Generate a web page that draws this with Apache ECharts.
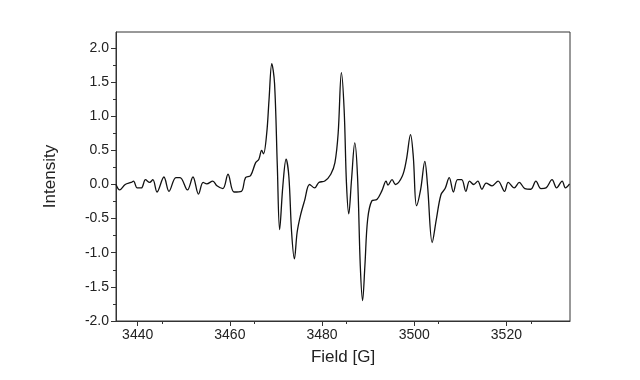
<!DOCTYPE html>
<html>
<head>
<meta charset="utf-8">
<script src="https://cdn.jsdelivr.net/npm/echarts@6/dist/echarts.min.js"></script>
<style>html,body{margin:0;padding:0;background:#fff;}#c{width:640px;height:380px;}</style>
</head>
<body>
<div id="c"></div>
<script>
const field = [3435.3,3436.1,3437.3,3438.6,3439.1,3439.9,3440.8,3441.7,3442.6,3443.3,3444.2,3445.7,3446.8,3448.3,3449.2,3450.8,3452.0,3453.2,3454.2,3455.0,3456.3,3457.2,3458.5,3459.6,3460.9,3462.5,3463.4,3464.5,3465.6,3466.3,3466.9,3467.3,3468.0,3468.5,3469.1,3469.7,3470.3,3470.8,3471.5,3472.2,3472.8,3473.4,3474.0,3474.6,3475.3,3476.2,3477.3,3478.4,3479.3,3480.6,3481.9,3482.8,3483.5,3484.2,3484.8,3485.3,3485.8,3486.4,3487.1,3487.7,3488.3,3488.8,3489.3,3489.9,3490.8,3491.9,3493.0,3493.9,3494.3,3495.2,3495.9,3497.4,3498.3,3499.2,3499.8,3500.5,3501.4,3502.3,3502.9,3503.9,3504.8,3505.8,3506.7,3507.6,3508.5,3509.4,3510.3,3511.2,3512.0,3512.9,3513.8,3514.7,3515.6,3516.9,3518.2,3519.6,3520.4,3521.7,3522.8,3524.0,3525.3,3526.4,3527.5,3528.6,3529.9,3530.9,3532.1,3532.8,3533.7];
const intensity = [0.0,-0.08,0.0,0.03,0.05,-0.05,-0.05,0.07,0.03,0.07,-0.11,0.11,-0.1,0.1,0.1,-0.08,0.11,-0.14,0.03,0.01,0.05,-0.02,-0.06,0.15,-0.11,-0.1,0.1,0.13,0.32,0.37,0.5,0.45,0.75,1.24,1.77,1.48,0.27,-0.66,-0.02,0.37,0.12,-0.7,-1.09,-0.7,-0.46,-0.24,0.0,-0.05,0.03,0.05,0.15,0.32,0.75,1.64,1.09,0.02,-0.43,0.07,0.61,0.12,-1.19,-1.7,-1.19,-0.51,-0.24,-0.22,-0.09,0.05,-0.01,0.07,0.0,0.12,0.36,0.73,0.41,-0.31,-0.07,0.34,-0.02,-0.85,-0.51,-0.15,-0.06,0.1,-0.11,0.07,0.07,-0.1,0.05,0.0,0.05,-0.07,0.02,-0.02,0.05,-0.1,0.03,-0.05,0.03,-0.06,-0.07,0.05,-0.06,-0.05,0.07,-0.05,0.05,-0.05,0.01];
const xTicks = [3440,3460,3480,3500,3520];
const yTicks = [-2.0,-1.5,-1.0,-0.5,0.0,0.5,1.0,1.5,2.0];

const chart = echarts.init(document.getElementById('c'), null, {renderer:'canvas'});
const font = 'Liberation Sans, Arial, sans-serif';
chart.setOption({
  animation:false,
  backgroundColor:'#fff',
  grid:{left:116,right:70,top:32,bottom:59,show:true,borderColor:'#333',borderWidth:1,backgroundColor:'transparent'},
  xAxis:{
    type:'value', min:3435.3, max:3533.8, interval:20,
    name:'Field [G]', nameLocation:'middle', nameGap:28,
    nameTextStyle:{fontFamily:font,fontSize:17,color:'#222'},
    axisLine:{onZero:false,lineStyle:{color:'#333',width:1}},
    axisTick:{show:true,length:5,lineStyle:{color:'#333'},customValues:xTicks},
    minorTick:{show:true,splitNumber:2,length:3,lineStyle:{color:'#333'}},
    axisLabel:{fontFamily:font,fontSize:14,color:'#222',margin:7,customValues:xTicks,formatter:v=>String(v)},
    splitLine:{show:false}
  },
  yAxis:{
    type:'value', min:-2.0, max:2.234, interval:0.5,
    name:'Intensity', nameLocation:'middle', nameGap:57,
    nameTextStyle:{fontFamily:font,fontSize:17,color:'#222'},
    axisLine:{show:true,onZero:false,lineStyle:{color:'#333',width:1}},
    axisTick:{show:true,length:5,lineStyle:{color:'#333'},customValues:yTicks},
    minorTick:{show:true,splitNumber:2,length:3,lineStyle:{color:'#333'}},
    axisLabel:{fontFamily:font,fontSize:14,color:'#222',margin:7,customValues:yTicks,formatter:v=>v.toFixed(1)},
    splitLine:{show:false}
  },
  series:[{
    type:'line',
    data:field.map((f,i)=>[f,intensity[i]]),
    showSymbol:false, smooth:0.35,
    lineStyle:{color:'#111',width:1.3}
  }]
});
</script>
</body>
</html>
